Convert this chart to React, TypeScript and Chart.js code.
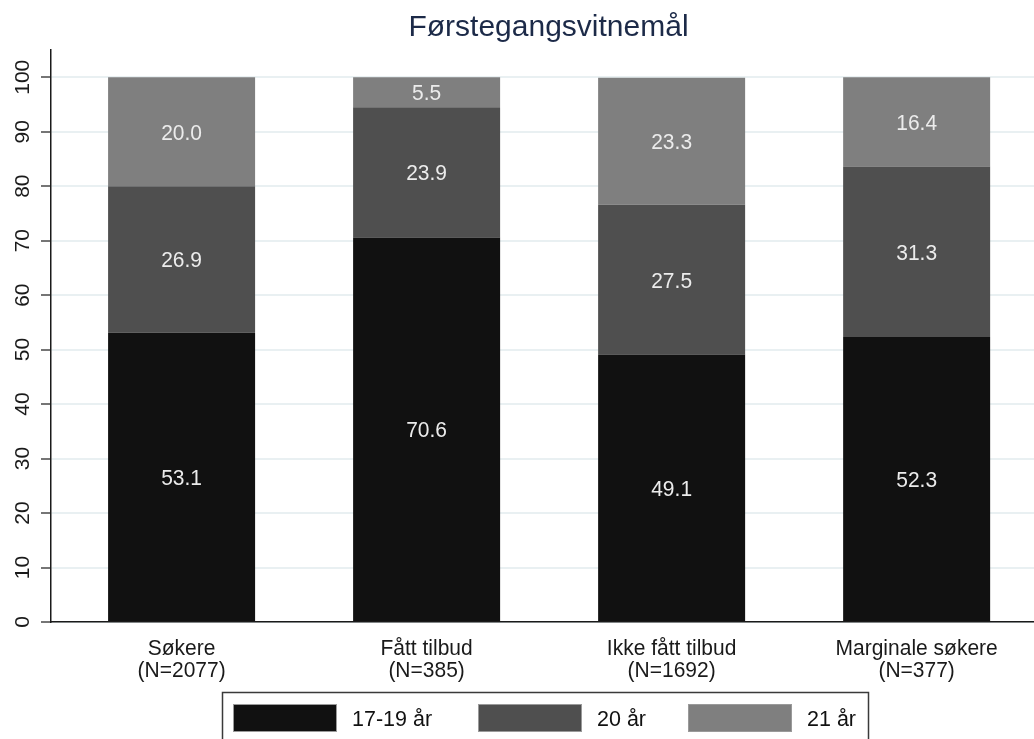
import React, { useEffect, useRef } from 'react';
import { Chart, registerables } from 'chart.js';

Chart.register(...registerables);

// ---- Data ----
const chartTitle = 'Førstegangsvitnemål';
const categories = ['Søkere', 'Fått tilbud', 'Ikke fått tilbud', 'Marginale søkere'];
const counts = [2077, 385, 1692, 377];
const seriesNames = ['17-19 år', '20 år', '21 år'];
const age17to19 = [53.1, 70.6, 49.1, 52.3];
const age20 = [26.9, 23.9, 27.5, 31.3];
const age21 = [20.0, 5.5, 23.3, 16.4];
const yTickValues = [0, 10, 20, 30, 40, 50, 60, 70, 80, 90, 100];

const seriesColors = ['#111111', '#4f4f4f', '#7f7f7f'];
const FONT = '"Liberation Sans", Arial, sans-serif';

function drawText(
  ctx: CanvasRenderingContext2D,
  text: string,
  x: number,
  y: number,
  size: number,
  sy: number,
  color: string,
  align: CanvasTextAlign,
  rotate = 0
) {
  ctx.save();
  ctx.translate(x, y);
  if (rotate) ctx.rotate(rotate);
  ctx.scale(1, sy);
  ctx.font = `${size}px ${FONT}`;
  ctx.fillStyle = color;
  ctx.textAlign = align;
  ctx.textBaseline = 'alphabetic';
  ctx.fillText(text, 0, 0);
  ctx.restore();
}

const textPlugin = {
  id: 'customText',
  afterDatasetsDraw(chart: any) {
    const ctx = chart.ctx as CanvasRenderingContext2D;
    chart.data.datasets.forEach((ds: any, di: number) => {
      const meta = chart.getDatasetMeta(di);
      meta.data.forEach((el: any, i: number) => {
        const v = ds.data[i].y;
        const mid = (el.y + el.base) / 2;
        drawText(ctx, v.toFixed(1), el.x, mid + 8, 21, 1.08, '#ececec', 'center');
      });
    });
  },
  afterDraw(chart: any) {
    const ctx = chart.ctx as CanvasRenderingContext2D;
    const xs = chart.scales.x;
    const ys = chart.scales.y;
    // title
    drawText(ctx, chartTitle, 548.5, 36, 30, 1.0, '#1c2a48', 'center');
    // y tick labels (rotated)
    yTickValues.forEach((v) => {
      const py = ys.getPixelForValue(v);
      drawText(ctx, String(v), 28.5, py, 21, 1.0, '#1a1a1a', 'center', -Math.PI / 2);
    });
    // x category labels
    categories.forEach((c, i) => {
      const px = xs.getPixelForValue(i);
      drawText(ctx, c, px, 655, 21, 1.08, '#1a1a1a', 'center');
      drawText(ctx, `(N=${counts[i]})`, px, 677, 21, 1.08, '#1a1a1a', 'center');
    });
    // legend
    ctx.save();
    ctx.strokeStyle = '#3a3a3a';
    ctx.lineWidth = 1.5;
    ctx.strokeRect(222.5, 692.5, 646, 70);
    ctx.restore();
    const swX = [233, 478, 688];
    chart.data.datasets.forEach((ds: any, i: number) => {
      ctx.save();
      ctx.fillStyle = ds.backgroundColor;
      ctx.fillRect(swX[i], 704, 104, 28);
      ctx.strokeStyle = '#9a9a9a';
      ctx.lineWidth = 1;
      ctx.strokeRect(swX[i] + 0.5, 704.5, 103, 27);
      ctx.restore();
      drawText(ctx, ds.label, swX[i] + 119, 726, 21.5, 1.03, '#111111', 'left');
    });
  },
};

export default function App() {
  const canvasRef = useRef<HTMLCanvasElement | null>(null);

  useEffect(() => {
    if (!canvasRef.current) return;
    const seriesValues = [age17to19, age20, age21];
    const chart = new Chart(canvasRef.current, {
      type: 'bar',
      data: {
        datasets: seriesNames.map((name, si) => ({
          label: name,
          data: seriesValues[si].map((v, i) => ({ x: i, y: v })),
          backgroundColor: seriesColors[si],
          borderWidth: 0,
          categoryPercentage: 1,
          barPercentage: 0.6,
        })),
      },
      options: {
        responsive: false,
        devicePixelRatio: 1,
        animation: false,
        layout: { padding: { top: 50, right: 0, bottom: 117, left: 0 } },
        plugins: {
          legend: { display: false },
          tooltip: { enabled: false },
          title: { display: false },
        },
        scales: {
          x: {
            type: 'linear',
            stacked: true,
            offset: false,
            min: -0.533,
            max: 3.479,
            afterFit: (s: any) => {
              s.height = 0;
            },
            afterBuildTicks: (s: any) => {
              s.ticks = categories.map((_, i) => ({ value: i }));
            },
            ticks: { display: false },
            grid: { display: true, offset: false, drawOnChartArea: false, drawTicks: false, color: 'transparent' },
            border: { display: true, color: '#1a1a1a', width: 1.5 },
          },
          y: {
            stacked: true,
            min: 0,
            max: 105,
            afterFit: (s: any) => {
              s.width = 51;
            },
            afterBuildTicks: (s: any) => {
              s.ticks = yTickValues.map((v) => ({ value: v }));
            },
            ticks: { display: false },
            grid: {
              color: '#e9f0f2',
              lineWidth: 2,
              drawTicks: true,
              tickLength: 10,
              tickColor: '#1a1a1a',
              tickWidth: 1.2,
            },
            border: { display: true, color: '#1a1a1a', width: 1.5 },
          },
        },
      },
      plugins: [textPlugin],
    });
    return () => chart.destroy();
  }, []);

  return (
    <div
      style={{
        position: 'fixed',
        left: 0,
        top: 0,
        width: 1034,
        height: 739,
        overflow: 'hidden',
        background: '#ffffff',
      }}
    >
      <canvas ref={canvasRef} width={1034} height={739} style={{ display: 'block' }} />
    </div>
  );
}
